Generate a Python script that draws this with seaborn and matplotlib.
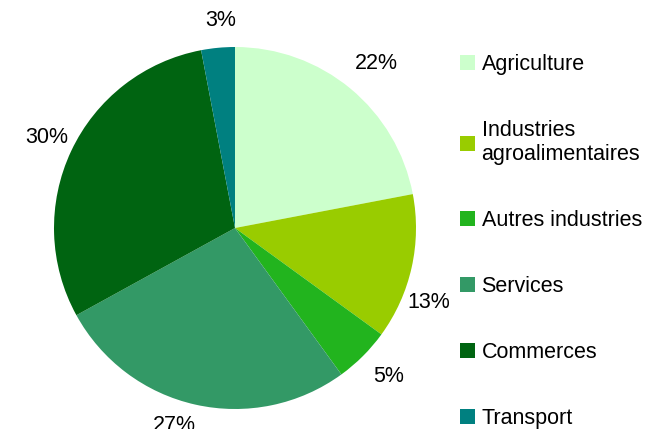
import matplotlib
matplotlib.use('Agg')
import numpy as np
import matplotlib.pyplot as plt
import seaborn as sns

# donnees du graphique
secteurs = ['Agriculture', 'Industries\nagroalimentaires', 'Autres industries',
            'Services', 'Commerces', 'Transport']
parts = [22, 13, 5, 27, 30, 3]
couleurs = ['#CCFFCC', '#99CC00', '#22B41E', '#339966', '#006411', '#008080']

sns.set_theme(style='white')
plt.rcParams['font.family'] = ['Liberation Sans', 'DejaVu Sans']

fig = plt.figure(figsize=(6.62, 4.29), dpi=100)
ax = fig.add_axes([54 / 662, 20 / 429, 362 / 662, 362 / 429])

palette = sns.color_palette(couleurs)
wedges, textes, pcts = ax.pie(parts, colors=palette, startangle=90, counterclock=False,
                              autopct=lambda p: f'{p:.0f}%', pctdistance=1.17,
                              textprops={'fontsize': 15.5, 'color': 'black'},
                              wedgeprops={'linewidth': 0})

# petits decalages d'angle des etiquettes (comme le placement "au mieux" d'Excel)
decalage = {1: -9, 3: -6}
dist = {1: 1.12, 3: 1.15, 5: 1.15, 2: 1.16}
for i, (w, t) in enumerate(zip(wedges, pcts)):
    ang = np.deg2rad((w.theta1 + w.theta2) / 2 + decalage.get(i, 0))
    d = dist.get(i, 1.18)
    t.set_position((d * np.cos(ang) + 0.03, d * np.sin(ang)))
    t.set_clip_on(False)

ax.set_xlim(-1, 1)
ax.set_ylim(-1, 1)
ax.set_aspect('equal')
ax.axis('off')

leg = fig.legend(wedges, secteurs, loc='upper left', bbox_to_anchor=(460 / 662, 1 - 54 / 429),
                 frameon=False, fontsize=15.5, borderpad=0, borderaxespad=0,
                 handlelength=0.7, handleheight=0.7, handletextpad=0.3, labelspacing=2.09)
for t in leg.get_texts():
    t.set_color('black')

plt.savefig('out.png', dpi=100)
